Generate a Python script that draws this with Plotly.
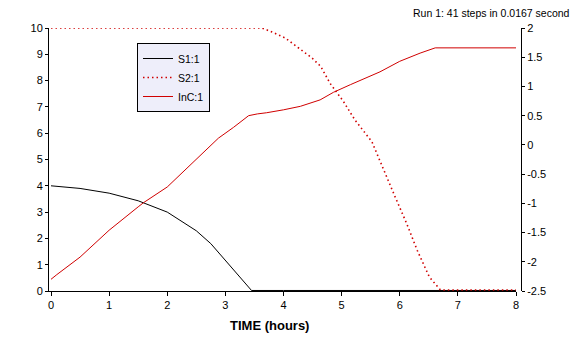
import plotly.graph_objects as go

# ---- data ----
s1_x = [0, 0.5, 1.0, 1.5, 2.0, 2.25, 2.5, 2.75, 3.0, 3.25, 3.45, 4.0, 5.0, 6.0, 7.0, 8.0]
s1_y = [4.0, 3.9, 3.72, 3.43, 3.0, 2.65, 2.29, 1.8, 1.16, 0.53, 0.02, 0.02, 0.02, 0.02, 0.02, 0.02]

s2_x = [0, 1, 2, 3, 3.63, 3.8, 4.03, 4.26, 4.49, 4.64, 4.8, 5.03, 5.23, 5.52, 5.72, 5.92, 6.12, 6.3, 6.51, 6.7, 7, 8]
s2_y = [10, 10, 10, 10, 10, 9.85, 9.62, 9.24, 8.86, 8.54, 7.9, 7.21, 6.5, 5.68, 4.6, 3.58, 2.56, 1.55, 0.53, 0.04, 0.04, 0.04]

inc_x = [0, 0.1, 0.5, 1.0, 1.5, 1.59, 2.0, 2.5, 2.88, 3.14, 3.4, 3.55, 3.71, 4.0, 4.29, 4.63, 4.86, 5.15, 5.66, 6.0, 6.35, 6.61, 8.0]
inc_y = [-2.3, -2.22, -1.92, -1.46, -1.06, -0.99, -0.72, -0.25, 0.115, 0.3, 0.5, 0.53, 0.55, 0.6, 0.66, 0.77, 0.9, 1.03, 1.25, 1.43, 1.57, 1.66, 1.66]

x_ticks = [0, 1, 2, 3, 4, 5, 6, 7, 8]
left_ticks = [0, 1, 2, 3, 4, 5, 6, 7, 8, 9, 10]
right_ticks = [-2.5, -2, -1.5, -1, -0.5, 0, 0.5, 1, 1.5, 2]
right_labels = ["-2.5", "-2", "-1.5", "-1", "-0.5", "0", "0.5", "1", "1.5", "2"]

RED = "#D00000"
FONT = "Liberation Sans, Arial, sans-serif"

fig = go.Figure()
fig.add_trace(go.Scatter(x=s1_x, y=s1_y, mode="lines", name="S1:1",
                         line=dict(color="black", width=1)))
fig.add_trace(go.Scatter(x=s2_x, y=s2_y, mode="lines", name="S2:1",
                         line=dict(color=RED, width=1.6, dash="1.5px,3px")))
fig.add_trace(go.Scatter(x=inc_x, y=inc_y, mode="lines", name="InC:1", yaxis="y2",
                         line=dict(color=RED, width=1)))

axis_common = dict(showline=True, linecolor="black", linewidth=1, ticks="outside",
                   tickcolor="black", showgrid=False, zeroline=False, automargin=False,
                   tickfont=dict(family=FONT, size=11, color="black"))

fig.update_layout(
    width=575, height=358,
    margin=dict(l=48, r=54, t=28, b=67, autoexpand=False),
    plot_bgcolor="white", paper_bgcolor="white",
    font=dict(family=FONT, size=11, color="black"),
    xaxis=dict(domain=[0, 468 / 473], range=[-3 / 58.1, 8], tickvals=x_ticks,
               ticklen=4, **axis_common),
    yaxis=dict(range=[0, 10], tickvals=left_ticks, ticklen=3, anchor="free",
               position=0, **axis_common),
    yaxis2=dict(range=[-2.5, 2], tickvals=right_ticks, ticktext=right_labels,
                ticklen=3, overlaying="y", side="right", anchor="free",
                position=1, **axis_common),
    showlegend=True,
    legend=dict(x=(137 - 48) / 473, y=(291 - 43) / 263, xanchor="left", yanchor="top",
                bgcolor="#EEEEFA", bordercolor="black", borderwidth=1,
                font=dict(family=FONT, size=10.5, color="black"),
                itemwidth=30, tracegroupgap=0),
    annotations=[
        dict(text="<b>TIME (hours)</b>", xref="paper", yref="paper",
             x=(269 - 48) / 473, y=(291 - 325) / 263, xanchor="center", yanchor="middle",
             showarrow=False, font=dict(family=FONT, size=13, color="black")),
        dict(text="Run 1: 41 steps in 0.0167 second", xref="paper", yref="paper",
             x=(572 - 48) / 473, y=(291 - 13) / 263, xanchor="right", yanchor="middle",
             showarrow=False, font=dict(family=FONT, size=10.5, color="black")),
    ],
)

fig.write_html(
    "out.html",
    config={"displayModeBar": False},
    post_script="document.body.style.margin='0';document.body.style.overflow='hidden';",
)
